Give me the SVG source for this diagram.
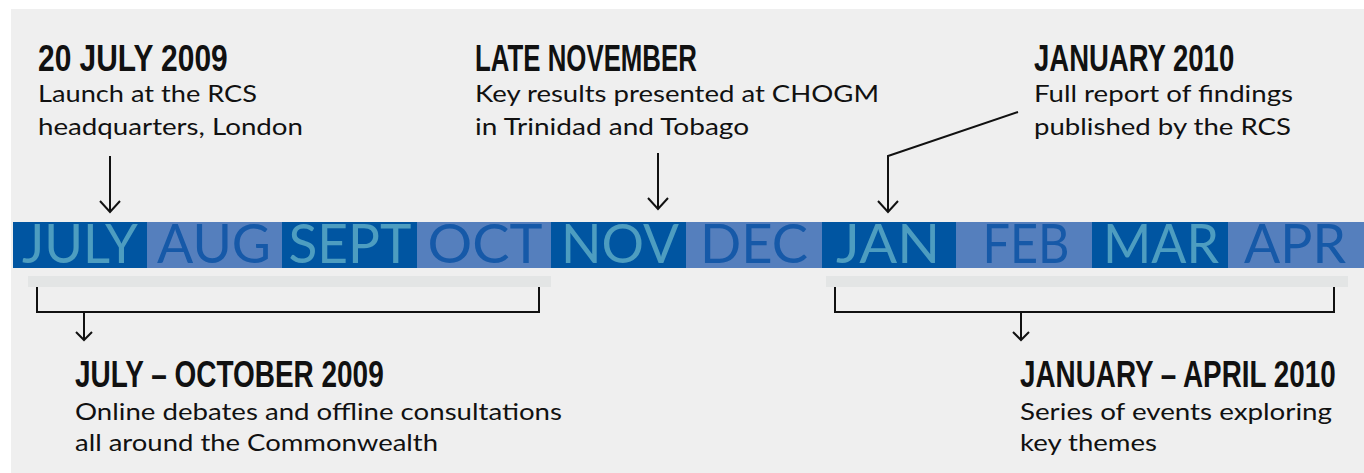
<svg xmlns="http://www.w3.org/2000/svg" width="1364" height="473" viewBox="0 0 1364 473">
  <defs>
    <style>
      .panel { fill: #efefef; }
      .dk { fill: #0055a1; }
      .lt { fill: #557fbd; }
      .band { fill: #e3e5e5; }
      .mon { font-family: Lato, "Open Sans", "Liberation Sans", sans-serif; font-weight: 400; font-size: 54px; text-anchor: middle; }
      .onDk { fill: #4d9dc0; }
      .onLt { fill: #1659a8; }
      .head { font-family: "Liberation Sans", Arial, sans-serif; font-weight: bold; font-size: 37px; fill: #111111; }
      .body { font-family: Lato, "Open Sans", "Liberation Sans", sans-serif; font-size: 24px; fill: #111111; }
      .conn { fill: none; stroke: #111111; stroke-width: 2; }
      .arr { fill: none; stroke: #111111; stroke-width: 2; stroke-linecap: butt; }
    </style>
  </defs>

  <rect x="0" y="0" width="1364" height="473" fill="#ffffff"/>
  <rect class="panel" x="11" y="9" width="1353" height="464"/>

  <g id="timeline-bar">
    <rect class="dk" x="13" y="222" width="134" height="46"/>
    <rect class="lt" x="147" y="222" width="135" height="46"/>
    <rect class="dk" x="282" y="222" width="135" height="46"/>
    <rect class="lt" x="417" y="222" width="134" height="46"/>
    <rect class="dk" x="551" y="222" width="135" height="46"/>
    <rect class="lt" x="686" y="222" width="136" height="46"/>
    <rect class="dk" x="822" y="222" width="134" height="46"/>
    <rect class="lt" x="956" y="222" width="136" height="46"/>
    <rect class="dk" x="1092" y="222" width="136" height="46"/>
    <rect class="lt" x="1228" y="222" width="136" height="46"/>
    <text class="mon onDk" x="80" y="263" textLength="116" lengthAdjust="spacingAndGlyphs">JULY</text>
    <text class="mon onLt" x="214" y="263" textLength="114" lengthAdjust="spacingAndGlyphs">AUG</text>
    <text class="mon onDk" x="350" y="263" textLength="123" lengthAdjust="spacingAndGlyphs">SEPT</text>
    <text class="mon onLt" x="485" y="263" textLength="115" lengthAdjust="spacingAndGlyphs">OCT</text>
    <text class="mon onDk" x="620" y="263" textLength="118" lengthAdjust="spacingAndGlyphs">NOV</text>
    <text class="mon onLt" x="754" y="263" textLength="108" lengthAdjust="spacingAndGlyphs">DEC</text>
    <text class="mon onDk" x="888" y="263" textLength="104" lengthAdjust="spacingAndGlyphs">JAN</text>
    <text class="mon onLt" x="1026" y="263" textLength="87" lengthAdjust="spacingAndGlyphs">FEB</text>
    <text class="mon onDk" x="1161" y="263" textLength="116" lengthAdjust="spacingAndGlyphs">MAR</text>
    <text class="mon onLt" x="1295" y="263" textLength="102" lengthAdjust="spacingAndGlyphs">APR</text>
  </g>

  <g id="bands">
    <rect class="band" x="28" y="276" width="523" height="11"/>
    <rect class="band" x="826" y="276" width="522" height="11"/>
  </g>

  <g id="event-launch">
    <text class="head" transform="translate(38,71) scale(0.7,1)" x="0" y="0" textLength="271" lengthAdjust="spacingAndGlyphs">20 JULY 2009</text>
    <text class="body" x="38" y="102" textLength="219" lengthAdjust="spacingAndGlyphs">Launch at the RCS</text>
    <text class="body" x="38" y="135" textLength="265" lengthAdjust="spacingAndGlyphs">headquarters, London</text>
  </g>

  <g id="event-november">
    <text class="head" transform="translate(475,71) scale(0.7,1)" x="0" y="0" textLength="317" lengthAdjust="spacingAndGlyphs">LATE NOVEMBER</text>
    <text class="body" x="475" y="102" textLength="404" lengthAdjust="spacingAndGlyphs">Key results presented at CHOGM</text>
    <text class="body" x="475" y="135" textLength="274" lengthAdjust="spacingAndGlyphs">in Trinidad and Tobago</text>
  </g>

  <g id="event-january">
    <text class="head" transform="translate(1034,71) scale(0.7,1)" x="0" y="0" textLength="286" lengthAdjust="spacingAndGlyphs">JANUARY 2010</text>
    <text class="body" x="1034" y="102" textLength="259" lengthAdjust="spacingAndGlyphs">Full report of findings</text>
    <text class="body" x="1034" y="135" textLength="257" lengthAdjust="spacingAndGlyphs">published by the RCS</text>
  </g>

  <g id="period-2009">
    <text class="head" transform="translate(75,387) scale(0.7,1)" x="0" y="0" font-size="39" textLength="441" lengthAdjust="spacingAndGlyphs">JULY – OCTOBER 2009</text>
    <text class="body" x="75" y="420" textLength="487" lengthAdjust="spacingAndGlyphs">Online debates and offline consultations</text>
    <text class="body" x="75" y="451" textLength="363" lengthAdjust="spacingAndGlyphs">all around the Commonwealth</text>
  </g>

  <g id="period-2010">
    <text class="head" transform="translate(1020,387) scale(0.7,1)" x="0" y="0" font-size="39" textLength="451" lengthAdjust="spacingAndGlyphs">JANUARY – APRIL 2010</text>
    <text class="body" x="1020" y="420" textLength="312" lengthAdjust="spacingAndGlyphs">Series of events exploring</text>
    <text class="body" x="1020" y="451" textLength="137" lengthAdjust="spacingAndGlyphs">key themes</text>
  </g>

  <g id="connectors">
    <path class="arr" d="M110,156 V212 M100,201 L110,212 L120,201"/>
    <path class="arr" d="M658,153 V209 M648,198 L658,209 L668,198"/>
    <path class="arr" d="M1018,112 L888,156 V212 M878,201 L888,212 L898,201"/>
    <path class="conn" d="M37,287 V312 H539 V287"/>
    <path class="arr" d="M84,312 V340 M76,332 L84,340 L92,332"/>
    <path class="conn" d="M835,287 V312 H1334 V287"/>
    <path class="arr" d="M1021,312 V340 M1013,332 L1021,340 L1029,332"/>
  </g>
</svg>
